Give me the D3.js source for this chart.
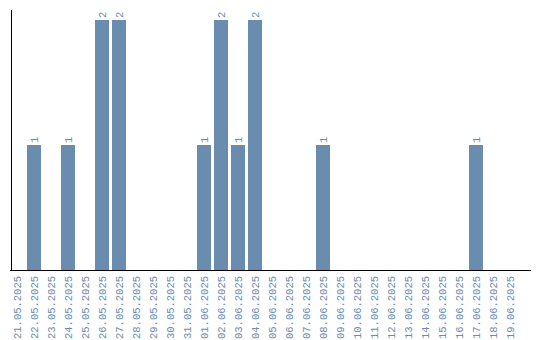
<!DOCTYPE html>
<html>
<head>
<meta charset="utf-8">
<script src="https://cdn.jsdelivr.net/npm/d3@7"></script>
<style>
  body { margin: 0; background: #fff; }
  svg text { font-family: "Liberation Mono", monospace; font-size: 10.5px; fill: #6a8caf; }
</style>
</head>
<body>
<div id="chart"></div>
<script>
// dates shown on the x axis
var dates = ["21.05.2025", "22.05.2025", "23.05.2025", "24.05.2025", "25.05.2025",
    "26.05.2025", "27.05.2025", "28.05.2025", "29.05.2025", "30.05.2025",
    "31.05.2025", "01.06.2025", "02.06.2025", "03.06.2025", "04.06.2025",
    "05.06.2025", "06.06.2025", "07.06.2025", "08.06.2025", "09.06.2025",
    "10.06.2025", "11.06.2025", "12.06.2025", "13.06.2025", "14.06.2025",
    "15.06.2025", "16.06.2025", "17.06.2025", "18.06.2025", "19.06.2025"];
// count per day
var counts = [0, 1, 0, 1, 0, 2, 2, 0, 0, 0,
    0, 1, 2, 1, 2, 0, 0, 0, 1, 0,
    0, 0, 0, 0, 0, 0, 0, 1, 0, 0];

var width = 540,
    height = 340;

var svg = d3.select("#chart")
    .append("svg")
    .attr("width", width)
    .attr("height", height);

var x = d3.scaleBand()
    .domain(dates)
    .range([10, 517])
    .paddingInner(3 / 17)
    .paddingOuter(0);

var y = d3.scaleLinear()
    .domain([0, 2])
    .range([270, 20]);

// bars
svg.append("g")
    .selectAll("rect")
    .data(dates)
    .join("rect")
    .attr("x", d => x(d))
    .attr("y", (d, i) => y(counts[i]))
    .attr("width", x.bandwidth())
    .attr("height", (d, i) => y(0) - y(counts[i]))
    .attr("fill", "#6a8caf");

// value labels (rotated)
svg.append("g")
    .selectAll("text")
    .data(dates.filter((d, i) => counts[i] > 0))
    .join("text")
    .attr("transform", d => {
        let v = counts[dates.indexOf(d)];
        return `translate(${x(d) + x.bandwidth() / 2 + 4},${y(v) - 2}) rotate(-90)`;
    })
    .text(d => counts[dates.indexOf(d)]);

// x axis
var xAxis = svg.append("g")
    .attr("transform", `translate(0,${y(0)})`)
    .call(d3.axisBottom(x).tickSize(0).tickPadding(0));
xAxis.select(".domain").remove();
xAxis.selectAll("text")
    .attr("transform", "rotate(-90)")
    .attr("text-anchor", "end")
    .attr("x", -6)
    .attr("y", 0)
    .attr("dy", "0.35em")
    .attr("font-family", null)
    .attr("font-size", null);

svg.append("line")
    .attr("x1", 10).attr("x2", 531)
    .attr("y1", y(0) + 0.5).attr("y2", y(0) + 0.5)
    .attr("stroke", "#000");

// y axis line
svg.append("line")
    .attr("x1", 11.5).attr("x2", 11.5)
    .attr("y1", 10).attr("y2", y(0))
    .attr("stroke", "#000");
</script>
</body>
</html>
